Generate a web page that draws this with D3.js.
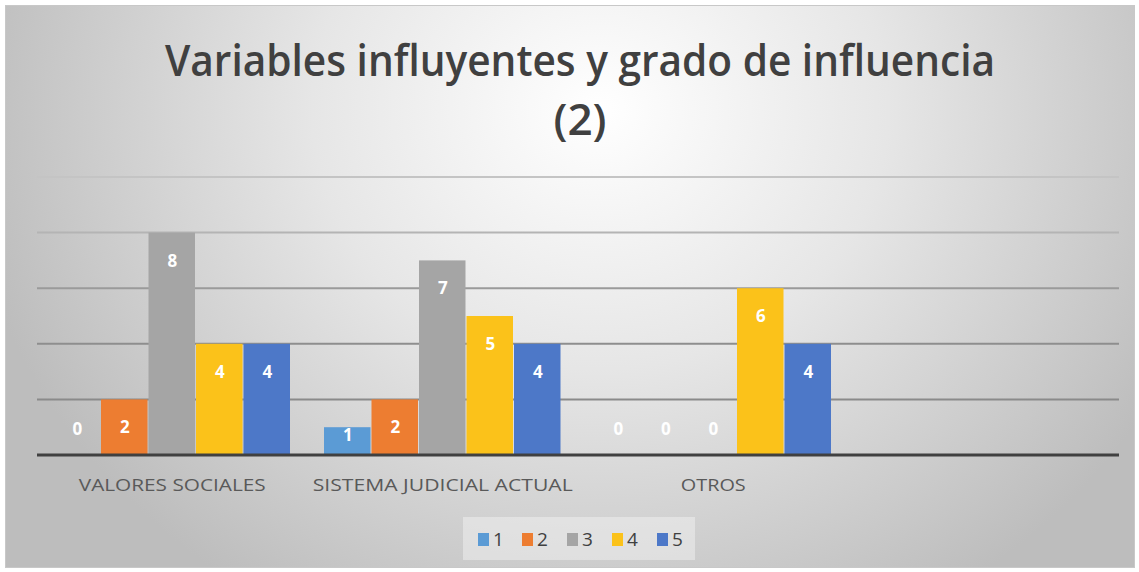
<!DOCTYPE html>
<html><head><meta charset="utf-8">
<script src="https://cdn.jsdelivr.net/npm/d3@7"></script>
<style>html,body{margin:0;padding:0;background:#fff;}svg{display:block;}</style>
</head><body>
<script>
const categories = ["VALORES SOCIALES", "SISTEMA JUDICIAL ACTUAL", "OTROS", ""];
const seriesNames = ["1", "2", "3", "4", "5"];
const s1 = [0, 1, 0];
const s2 = [2, 2, 0];
const s3 = [8, 7, 0];
const s4 = [4, 5, 6];
const s5 = [4, 4, 4];
const seriesValues = [s1, s2, s3, s4, s5];
const colors = ["#5b9bd5", "#ed7d31", "#a5a5a5", "#fbc21a", "#4d78c8"];
const yTicks = [0, 2, 4, 6, 8, 10];
const titleLines = ["Variables influyentes y grado de influencia", "(2)"];

(function () {
const W = 1139, H = 572;
const svg = d3.select("body").append("svg").attr("width", W).attr("height", H);
const defs = svg.append("defs");
const grad = defs.append("radialGradient").attr("id", "bg")
  .attr("gradientUnits", "userSpaceOnUse").attr("cx", 600).attr("cy", 110).attr("r", 640)
  .attr("gradientTransform", "translate(600,110) scale(1,0.9) translate(-600,-110)");
grad.append("stop").attr("offset", "0").attr("stop-color", "#ffffff");
grad.append("stop").attr("offset", "0.45").attr("stop-color", "#e6e6e6");
grad.append("stop").attr("offset", "1").attr("stop-color", "#bdbdbd");
svg.append("rect").attr("x", 5.5).attr("y", 5.5).attr("width", W - 10).attr("height", H - 10)
  .attr("fill", "url(#bg)").attr("stroke", "#c8c8c8").attr("stroke-width", 1);

const pLeft = 37, pRight = 1119, pTop = 177, pBottom = 455;
const x0 = d3.scaleBand().domain(categories).range([pLeft, pRight]).paddingInner(0).paddingOuter(0);
const y = d3.scaleLinear().domain([0, 10]).range([pBottom, pTop]);
const groupPad = 16.5;
const x1 = d3.scaleBand().domain(seriesNames).range([groupPad, x0.bandwidth() - groupPad]).padding(0);

// gridlines
const gridCol = {10: "#c4c4c4", 8: "#b4b4b4", 6: "#9a9a9a", 4: "#8e8e8e", 2: "#8a8a8a"};
svg.append("g").selectAll("line").data(yTicks.filter(t => t > 0)).join("line")
  .attr("x1", pLeft).attr("x2", pRight)
  .attr("y1", d => y(d)).attr("y2", d => y(d))
  .attr("stroke", d => gridCol[d]).attr("stroke-width", 2);

// bars
const data = [];
categories.forEach((c, ci) => {
  seriesNames.forEach((s, si) => {
    const v = seriesValues[si][ci];
    if (v !== undefined) data.push({c, s, si, v});
  });
});
const g = svg.append("g");
g.selectAll("rect").data(data.filter(d => d.v > 0)).join("rect")
  .attr("x", d => x0(d.c) + x1(d.s))
  .attr("width", x1.bandwidth() - 1)
  .attr("y", d => y(d.v))
  .attr("height", d => y(0) - y(d.v))
  .attr("fill", d => colors[d.si]);

// baseline axis
svg.append("line").attr("x1", pLeft).attr("x2", pRight).attr("y1", y(0)).attr("y2", y(0))
  .attr("stroke", "#404040").attr("stroke-width", 3);

// data labels
g.selectAll("text").data(data).join("text")
  .attr("x", d => x0(d.c) + x1(d.s) + x1.bandwidth() / 2)
  .attr("y", d => d.v === 0 ? y(0) - 20 : Math.min(y(d.v) + 34, y(0) - 14))
  .attr("text-anchor", "middle")
  .attr("font-family", "'Open Sans', sans-serif").attr("font-weight", 700)
  .attr("font-size", 17).attr("fill", "#ffffff")
  .text(d => d.v);

// category labels
const catW = {"VALORES SOCIALES": 187, "SISTEMA JUDICIAL ACTUAL": 260, "OTROS": 65};
svg.append("g").selectAll("text").data(categories.filter(c => c)).join("text")
  .attr("x", d => x0(d) + x0.bandwidth() / 2)
  .attr("y", 491)
  .attr("text-anchor", "middle")
  .attr("font-family", "'Open Sans', sans-serif").attr("font-size", 16.5)
  .attr("fill", "#595959")
  .attr("textLength", d => catW[d]).attr("lengthAdjust", "spacingAndGlyphs")
  .text(d => d);

// title
svg.append("g").selectAll("text").data(titleLines).join("text")
  .attr("x", 580).attr("y", (d, i) => 76 + i * 59)
  .attr("text-anchor", "middle")
  .attr("font-family", "'Open Sans', sans-serif").attr("font-weight", 600)
  .attr("font-size", 44).attr("fill", "#404040")
  .attr("textLength", (d, i) => i === 0 ? 830 : null)
  .attr("lengthAdjust", "spacingAndGlyphs")
  .text(d => d);

// legend
svg.append("rect").attr("x", 463).attr("y", 517).attr("width", 232).attr("height", 43)
  .attr("fill", "#eeeeee").attr("opacity", 0.55);
const legX = [478, 522, 567, 612, 657];
const lg = svg.append("g").selectAll("g").data(seriesNames).join("g")
  .attr("transform", (d, i) => `translate(${legX[i]},0)`);
lg.append("rect").attr("x", 0).attr("y", 533).attr("width", 11).attr("height", 13)
  .attr("fill", (d, i) => colors[i]);
lg.append("text").attr("x", 15).attr("y", 546)
  .attr("font-family", "'Open Sans', sans-serif").attr("font-size", 19)
  .attr("fill", "#404040").text(d => d);
})();
</script>
</body></html>
